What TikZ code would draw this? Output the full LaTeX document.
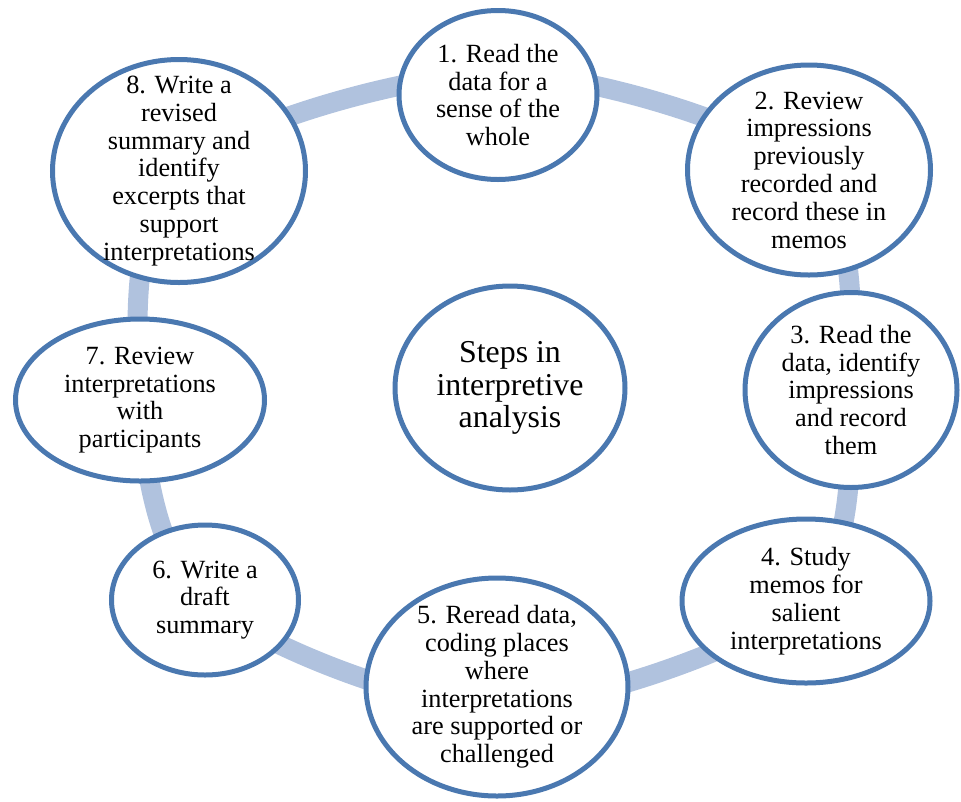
\documentclass[tikz,border=0pt]{standalone}
\usepackage{fontspec}
\setmainfont{Liberation Serif}
\usetikzlibrary{shapes.geometric,backgrounds,calc}
\definecolor{stepblue}{RGB}{74,120,176}
\definecolor{ringblue}{RGB}{176,194,222}

\begin{document}
\begin{tikzpicture}
  [x=0.75pt,y=-0.75pt,
   stepnode/.style 2 args={ellipse,draw=stepblue,line width=3.75pt,fill=white,
     inner sep=-30pt,align=center,minimum width=#1*0.75pt,minimum height=#2*0.75pt,
     font=\fontsize{19.7}{20.85}\selectfont},
   hubnode/.style={stepnode={230}{204},font=\fontsize{23.9}{24.4}\selectfont},
   cyclering/.style={draw=ringblue,line width=15pt}]
  \useasboundingbox (0,0) rectangle (961,801);

  \node[hubnode] (mid) at (510,388) {Steps in\\interpretive\\analysis};

  \node[stepnode={198}{169}] (s1) at (498,95) {1. Read the\\data for a\\sense of the\\whole};
  \node[stepnode={243}{210}] (s2) at (809,170) {2. Review\\impressions\\previously\\recorded and\\record these in\\memos};
  \node[stepnode={212}{195}] (s3) at (851,390) {3. Read the\\data, identify\\impressions\\and record\\them};
  \node[stepnode={248}{164}] (s4) at (806,601) {4. Study\\memos for\\salient\\interpretations};
  \node[stepnode={262}{218}] (s5) at (497,687) {5. Reread data,\\coding places\\where\\interpretations\\are supported or\\challenged};
  \node[stepnode={187}{150}] (s6) at (205,600) {6. Write a\\draft\\summary};
  \node[stepnode={249}{162}] (s7) at (140,400) {7. Review\\interpretations\\with\\participants};
  \node[stepnode={253}{223}] (s8) at (179,171) {8. Write a\\revised\\summary and\\identify\\excerpts that\\support\\interpretations};

  % ring behind the steps
  \begin{scope}[on background layer]
    \draw[cyclering] plot[smooth cycle,tension=0.5] coordinates
      {($(s1.center)+(0,-22)$) (s2.center) (s3.center) (s4.center)
       ($(s5.center)+(0,20)$) (s6.center) (s7.center) (s8.center)};
  \end{scope}

\end{tikzpicture}
\end{document}
